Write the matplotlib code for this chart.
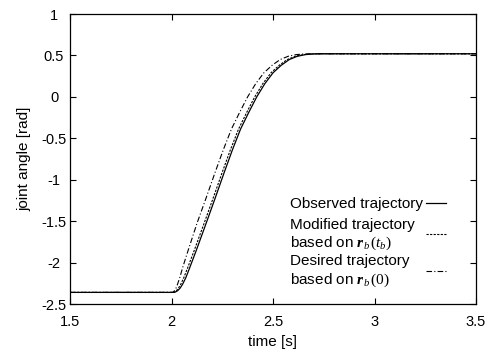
import matplotlib
matplotlib.use("Agg")
import matplotlib.pyplot as plt
from matplotlib.lines import Line2D

plt.rcParams["font.family"] = ["Liberation Sans", "DejaVu Sans"]
plt.rcParams["mathtext.fontset"] = "custom"
plt.rcParams["mathtext.bf"] = "Liberation Serif:bold:italic"
plt.rcParams["mathtext.it"] = "Liberation Serif:italic"
plt.rcParams["mathtext.rm"] = "Liberation Serif"

# observed joint angle (solid)
t_obs = [1.5, 2.0, 2.017, 2.03, 2.042, 2.055, 2.071, 2.09, 2.121, 2.17, 2.214, 2.26,
         2.30, 2.34, 2.38, 2.42, 2.46, 2.50, 2.54, 2.58, 2.62, 2.66, 2.70, 2.74, 3.5]
v_obs = [-2.36, -2.36, -2.358, -2.34, -2.31, -2.26, -2.18, -2.06, -1.86, -1.53, -1.23,
         -0.91, -0.64, -0.39, -0.19, 0.0, 0.16, 0.29, 0.38, 0.45, 0.49, 0.51, 0.518, 0.52, 0.52]

# modified trajectory based on r_b(t_b) (dotted)
t_mod = [1.5, 2.0, 2.012, 2.024, 2.034, 2.046, 2.061, 2.08, 2.111, 2.16, 2.204, 2.25,
         2.29, 2.33, 2.37, 2.41, 2.45, 2.49, 2.53, 2.57, 2.61, 2.65, 2.69, 2.735, 3.5]
v_mod = [-2.36, -2.36, -2.358, -2.34, -2.31, -2.26, -2.18, -2.06, -1.86, -1.53, -1.23,
         -0.91, -0.64, -0.39, -0.19, 0.0, 0.16, 0.29, 0.38, 0.45, 0.49, 0.51, 0.518, 0.52, 0.52]

# desired trajectory based on r_b(0) (dash-dot)
t_des = [1.5, 2.0, 2.007, 2.015, 2.022, 2.03, 2.041, 2.055, 2.081, 2.125, 2.169, 2.215,
         2.255, 2.295, 2.335, 2.375, 2.415, 2.455, 2.495, 2.535, 2.575, 2.615, 2.655, 2.70, 3.5]
v_des = [-2.36, -2.36, -2.358, -2.34, -2.31, -2.26, -2.18, -2.06, -1.86, -1.53, -1.23,
         -0.91, -0.64, -0.39, -0.19, 0.0, 0.16, 0.29, 0.38, 0.45, 0.49, 0.51, 0.518, 0.52, 0.52]

legend_lines = [
    ["Observed trajectory"],
    ["Modified trajectory", "based on $\\mathbf{r}_{b}\\,(t_{b})$"],
    ["Desired trajectory", "based on $\\mathbf{r}_{b}\\,(0)$"],
]

FS = 11
W, H = 489, 354

fig = plt.figure(figsize=(W / 100, H / 100), dpi=100)
ax = fig.add_axes([70 / W, 1 - 304 / H, 406 / W, 290 / H])

styles = [
    dict(color="black", lw=0.9, ls="-"),
    dict(color="black", lw=0.8, ls=(0, (2, 1.2))),
    dict(color="black", lw=0.8, ls=(0, (5, 2, 1, 2))),
]
ax.plot(t_obs, v_obs, **styles[0])
ax.plot(t_mod, v_mod, **styles[1])
ax.plot(t_des, v_des, **styles[2])

ax.set_xlim(1.5, 3.5)
ax.set_ylim(-2.5, 1.0)
ax.set_xticks([1.5, 2, 2.5, 3, 3.5])
ax.set_xticklabels(["1.5", "2", "2.5", "3", "3.5"])
ax.set_yticks([-2.5, -2, -1.5, -1, -0.5, 0, 0.5, 1])
ax.set_yticklabels(["-2.5", "-2", "-1.5", "-1", "-0.5", "0", "0.5", "1"])
ax.tick_params(direction="in", top=True, right=True, length=4, width=0.8,
               labelsize=10.5)
ax.tick_params(axis="x", pad=8)
ax.tick_params(axis="y", pad=11.5)
for lab in ax.get_yticklabels():
    lab.set_horizontalalignment("center")
for s in ax.spines.values():
    s.set_linewidth(0.9)

ax.set_xlabel("time [s]", fontsize=FS, labelpad=4)
ax.set_ylabel("joint angle [rad]", fontsize=FS, labelpad=7)

# gnuplot-style key: text left-aligned, sample to the right
text_y = [[204], [225, 243], [261, 280]]
sample_y = [203, 234, 271]
for entry, ys, sy, st in zip(legend_lines, text_y, sample_y, styles):
    for line, y in zip(entry, ys):
        fig.text(290 / W, 1 - y / H, line, fontsize=FS, ha="left", va="center")
    fig.add_artist(Line2D([426 / W, 446 / W], [1 - sy / H, 1 - sy / H],
                          transform=fig.transFigure, **st))

fig.savefig("out.png", dpi=100)
